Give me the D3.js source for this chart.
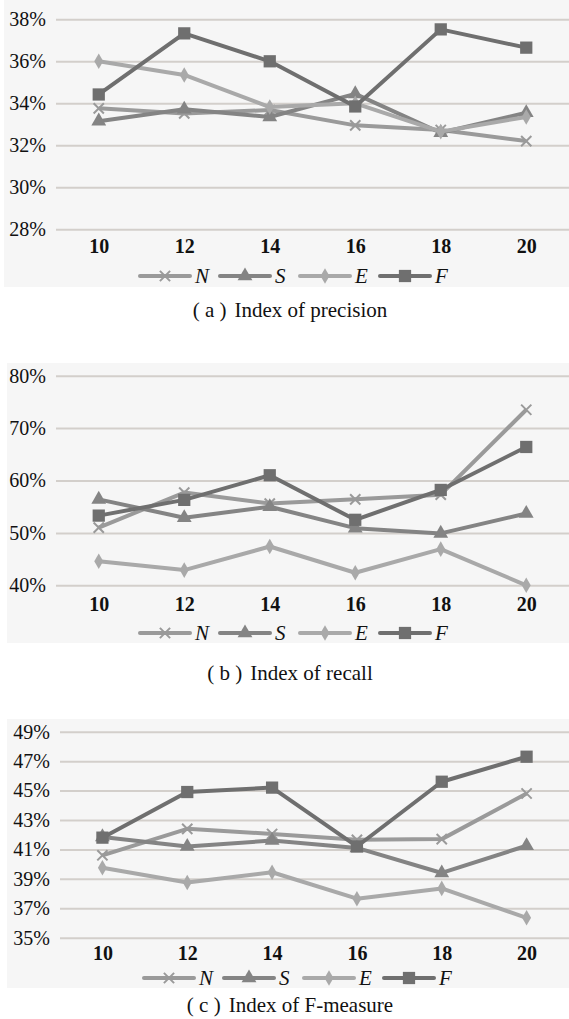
<!DOCTYPE html>
<html>
<head>
<meta charset="utf-8">
<script src="https://cdn.jsdelivr.net/npm/d3@7"></script>
<style>
  body { margin: 0; background: #fff; }
  svg text { font-family: 'Times New Roman', 'Liberation Serif', 'DejaVu Serif', serif; }
  .axis .domain { display: none; }
  .y-axis line { stroke: #d3cfcb; stroke-width: 2; }
  .y-axis text { font-size: 20px; fill: #111; }
  .x-axis text { font-size: 20px; font-weight: bold; fill: #111; }
  .x-axis line { display: none; }
  .caption { font-size: 21px; fill: #111; }
  .legend-text { font-size: 21px; font-style: italic; fill: #111; }
</style>
</head>
<body>
<div id="chart"></div>
<script>
const sizes = ['10', '12', '14', '16', '18', '20']
const seriesNames = ['N', 'S', 'E', 'F']

// (a) precision
const precN = [33.76, 33.52, 33.68, 32.95, 32.73, 32.2]
const precS = [33.15, 33.72, 33.35, 34.45, 32.6, 33.55]
const precE = [36.0, 35.35, 33.82, 34.0, 32.65, 33.35]
const precF = [34.42, 37.33, 36.0, 33.85, 37.52, 36.65]
const precTicks = [28, 30, 32, 34, 36, 38]

// (b) recall
const recN = [51.0, 57.7, 55.6, 56.4, 57.3, 73.5]
const recS = [56.4, 52.9, 55.0, 50.9, 49.9, 53.7]
const recE = [44.6, 42.9, 47.4, 42.4, 46.9, 40.0]
const recF = [53.3, 56.3, 61.0, 52.5, 58.2, 66.4]
const recTicks = [40, 50, 60, 70, 80]

// (c) F-measure
const fmN = [40.6, 42.4, 42.05, 41.65, 41.7, 44.8]
const fmS = [41.85, 41.2, 41.6, 41.1, 39.4, 41.25]
const fmE = [39.75, 38.75, 39.45, 37.65, 38.35, 36.35]
const fmF = [41.8, 44.9, 45.2, 41.2, 45.6, 47.3]
const fmTicks = [35, 37, 39, 41, 43, 45, 47, 49]

const colors = { N: '#9a9a9a', S: '#848484', E: '#a9a9a9', F: '#6f6f6f' }
const symbols = { N: d3.symbolX, S: d3.symbolTriangle, E: d3.symbolDiamond, F: d3.symbolSquare }
const symSize = { N: 70, S: 95, E: 70, F: 150 }

const svg = d3.select('#chart')
  .append('svg')
  .attr('width', 569)
  .attr('height', 1019)

const panels = [
  { series: [precN, precS, precE, precF], ticks: precTicks, bgTop: 0, bgBottom: 287, bgLeft: 4,
    left: 56, yTop: 19.3, yBottom: 229.3, xLabelY: 254, legendY: 276, legendX: 140,
    tag: 'a', caption: 'Index of precision', captionY: 317 },
  { series: [recN, recS, recE, recF], ticks: recTicks, bgTop: 363, bgBottom: 643, bgLeft: 7,
    left: 56, yTop: 375.7, yBottom: 585.3, xLabelY: 612, legendY: 633, legendX: 140,
    tag: 'b', caption: 'Index of recall', captionY: 680 },
  { series: [fmN, fmS, fmE, fmF], ticks: fmTicks, bgTop: 719, bgBottom: 988, bgLeft: 7,
    left: 60, yTop: 731.7, yBottom: 937.7, xLabelY: 961, legendY: 978, legendX: 144,
    tag: 'c', caption: 'Index of F-measure', captionY: 1012 }
]

panels.forEach(p => {
  const g = svg.append('g')

  g.append('rect')
    .attr('x', p.bgLeft)
    .attr('y', p.bgTop)
    .attr('width', 569 - p.bgLeft)
    .attr('height', p.bgBottom - p.bgTop)
    .attr('fill', '#f6f6f6')

  const x = d3.scalePoint().domain(sizes).range([p.left, 569]).padding(0.5)
  const y = d3.scaleLinear()
    .domain([d3.min(p.ticks), d3.max(p.ticks)])
    .range([p.yBottom, p.yTop])

  // gridlines + y labels
  const yAxis = d3.axisLeft(y)
    .tickValues(p.ticks)
    .tickSize(-(569 - p.left))
    .tickPadding(10)
    .tickFormat(d => d + '%')

  g.append('g')
    .attr('class', 'axis y-axis')
    .attr('transform', 'translate(' + p.left + ',0)')
    .call(yAxis)

  const xAxis = d3.axisBottom(x).tickSize(0).tickPadding(0)
  g.append('g')
    .attr('class', 'axis x-axis')
    .attr('transform', 'translate(0,' + (p.xLabelY - 15) + ')')
    .call(xAxis)

  const line = d3.line()
    .x((d, i) => x(sizes[i]))
    .y(d => y(d))

  seriesNames.forEach((name, k) => {
    const values = p.series[k]
    g.append('path')
      .datum(values)
      .attr('d', line)
      .attr('fill', 'none')
      .attr('stroke', colors[name])
      .attr('stroke-width', 4)
      .attr('stroke-linejoin', 'round')

    g.selectAll('.m-' + name)
      .data(values)
      .enter()
      .append('path')
      .attr('class', 'm-' + name)
      .attr('transform', (d, i) => 'translate(' + x(sizes[i]) + ',' + y(d) + ')')
      .attr('d', d3.symbol().type(symbols[name]).size(symSize[name]))
      .attr('fill', colors[name])
      .attr('stroke', name === 'N' ? colors[name] : 'none')
      .attr('stroke-width', name === 'N' ? 2 : 0)
  })

  // legend
  seriesNames.forEach((name, k) => {
    const lx = p.legendX + k * 80
    g.append('line')
      .attr('x1', lx)
      .attr('x2', lx + 50)
      .attr('y1', p.legendY)
      .attr('y2', p.legendY)
      .attr('stroke', colors[name])
      .attr('stroke-width', 4)
      .attr('stroke-linecap', 'round')
    g.append('path')
      .attr('transform', 'translate(' + (lx + 25) + ',' + p.legendY + ')')
      .attr('d', d3.symbol().type(symbols[name]).size(symSize[name]))
      .attr('fill', colors[name])
      .attr('stroke', name === 'N' ? colors[name] : 'none')
      .attr('stroke-width', name === 'N' ? 2 : 0)
    g.append('text')
      .attr('class', 'legend-text')
      .text(name)
      .attr('x', lx + 55)
      .attr('y', p.legendY + 7)
  })

  const cap = g.append('text')
    .attr('class', 'caption')
    .attr('x', 290)
    .attr('y', p.captionY)
    .attr('text-anchor', 'middle')
  cap.append('tspan').text('( ' + p.tag + ' )')
  cap.append('tspan').attr('dx', 8).text(p.caption)
})
</script>
</body>
</html>
